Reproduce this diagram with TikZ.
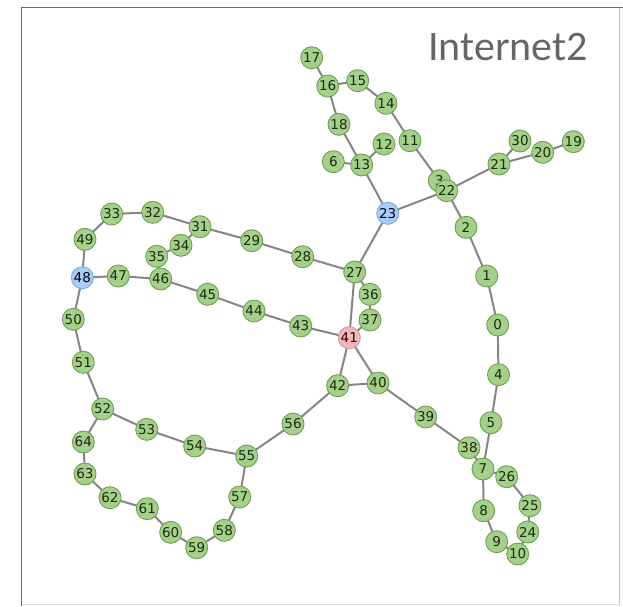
\documentclass[tikz,border=0pt]{standalone}
\usepackage{fontspec}
\setmainfont{DejaVu Sans}
\newfontfamily\titlefont{Carlito}
\usetikzlibrary{backgrounds}

\definecolor{gfill}{HTML}{A4D08A}
\definecolor{gline}{HTML}{6E9F54}
\definecolor{bfill}{HTML}{A9CDF2}
\definecolor{bline}{HTML}{7EA9D8}
\definecolor{pfill}{HTML}{F2B8B8}
\definecolor{pline}{HTML}{D59A9A}
\definecolor{edgecol}{HTML}{858585}
\definecolor{labcol}{HTML}{1C2B14}
\definecolor{titlecol}{HTML}{666666}

\tikzset{
  vtx/.style={circle, minimum size=22pt, inner sep=0pt, line width=0.9pt,
    draw=gline, fill=gfill, text=labcol, font=\fontsize{13.5}{13.5}\selectfont},
  hub/.style={vtx, draw=bline, fill=bfill, text=black!85!blue},
  core/.style={vtx, draw=pline, fill=pfill, text=black!80!red},
  link/.style={draw=edgecol, line width=2pt},
}

\begin{document}
\begin{tikzpicture}[x=1pt, y=-1pt]
\useasboundingbox (0,0) rectangle (623,606);

% frame
\draw[gray!50, line width=0.6pt] (619.5,7) -- (619.5,606);
\draw[gray!25, line width=0.6pt] (21.5,604.5) -- (619.5,604.5);
\draw[gray!80!black, line width=1.4pt] (21.5,606) -- (21.5,7.5) -- (623,7.5);

% title
\node[anchor=base east, text=titlecol, font=\titlefont\fontsize{42}{42}\selectfont, inner sep=0pt]
  (title) at (588,60) {Internet2};

% vertices
\node[vtx] (n17) at (311.7,57.7) {17};
\node[vtx] (n16) at (327.7,86) {16};
\node[vtx] (n15) at (357.7,80.7) {15};
\node[vtx] (n14) at (386,103.3) {14};
\node[vtx] (n18) at (339,124.3) {18};
\node[vtx] (n12) at (384,144) {12};
\node[vtx] (n11) at (410,140.7) {11};
\node[vtx] (n6)  at (333.3,161.7) {6};
\node[vtx] (n13) at (361.7,165) {13};
\node[vtx] (n3)  at (439.3,180.7) {3};
\node[vtx] (n22) at (446.7,190.7) {22};
\node[hub] (n23) at (387.7,213.3) {23};
\node[vtx] (n21) at (499,164) {21};
\node[vtx] (n30) at (520,141) {30};
\node[vtx] (n20) at (542.7,152.3) {20};
\node[vtx] (n19) at (573.3,141.7) {19};
\node[vtx] (n2)  at (466,227.3) {2};
\node[vtx] (n1)  at (486.7,276) {1};
\node[vtx] (n0)  at (497.7,325) {0};
\node[vtx] (n4)  at (498.5,374.7) {4};
\node[vtx] (n5)  at (491,422.7) {5};
\node[vtx] (n38) at (469,447.7) {38};
\node[vtx] (n7)  at (483,469) {7};
\node[vtx] (n26) at (506.7,476.7) {26};
\node[vtx] (n25) at (530,505.7) {25};
\node[vtx] (n24) at (527.7,532) {24};
\node[vtx] (n8)  at (483.7,510.7) {8};
\node[vtx] (n9)  at (496.7,541.7) {9};
\node[vtx] (n10) at (517.7,554) {10};
\node[vtx] (n39) at (425.7,417) {39};
\node[vtx] (n40) at (378,383) {40};
\node[vtx] (n42) at (337.7,385.7) {42};
\node[vtx] (n56) at (293,424) {56};
\node[vtx] (n28) at (302.7,256.7) {28};
\node[vtx] (n27) at (354.7,272) {27};
\node[vtx] (n36) at (370,294.3) {36};
\node[vtx] (n37) at (370,320) {37};
\node[vtx] (n43) at (300.7,326) {43};
\node[core] (n41) at (349.3,337.7) {41};
\node[vtx] (n33) at (111.7,214) {33};
\node[vtx] (n32) at (152.7,212.3) {32};
\node[vtx] (n31) at (200,226.7) {31};
\node[vtx] (n29) at (251.7,240.7) {29};
\node[vtx] (n49) at (85,239.3) {49};
\node[hub] (n48) at (82.3,277.7) {48};
\node[vtx] (n47) at (118.3,276) {47};
\node[vtx] (n35) at (156.7,256.3) {35};
\node[vtx] (n34) at (181,245.3) {34};
\node[vtx] (n46) at (160.7,279) {46};
\node[vtx] (n45) at (207.7,294.3) {45};
\node[vtx] (n44) at (254,311) {44};
\node[vtx] (n50) at (73.3,319.3) {50};
\node[vtx] (n51) at (83.3,362.3) {51};
\node[vtx] (n52) at (102.7,409) {52};
\node[vtx] (n53) at (146.7,429.3) {53};
\node[vtx] (n54) at (194.7,446) {54};
\node[vtx] (n55) at (246.7,456) {55};
\node[vtx] (n64) at (83.3,442) {64};
\node[vtx] (n63) at (85,474) {63};
\node[vtx] (n62) at (110,497.7) {62};
\node[vtx] (n61) at (147.3,508.7) {61};
\node[vtx] (n60) at (170.7,532.3) {60};
\node[vtx] (n59) at (196.7,547.7) {59};
\node[vtx] (n58) at (224.3,530.3) {58};
\node[vtx] (n57) at (239.7,497) {57};

% links, drawn behind the vertices
\begin{scope}[on background layer]
\foreach \a/\b in {
  17/16, 16/15, 15/14, 14/11, 11/3, 3/22, 16/18, 18/13, 6/13, 13/12, 13/23,
  23/22, 22/21, 21/30, 21/20, 20/19, 22/2, 2/1, 1/0, 0/4, 4/5, 5/7,
  39/38, 38/7, 7/26, 26/25, 25/24, 24/10, 10/9, 9/8, 8/7,
  23/27, 27/28, 28/29, 29/31, 31/32, 32/33, 33/49, 49/48, 48/47, 47/46,
  46/45, 45/44, 44/43, 43/41, 31/34, 34/35, 35/46,
  27/41, 27/36, 36/37, 37/41, 41/42, 41/40, 42/40, 40/39,
  42/56, 56/55, 48/50, 50/51, 51/52, 52/53, 53/54, 54/55,
  52/64, 64/63, 63/62, 62/61, 61/60, 60/59, 59/58, 58/57, 57/55}
  \draw[link] (n\a.center) -- (n\b.center);
\end{scope}
\end{tikzpicture}
\end{document}
